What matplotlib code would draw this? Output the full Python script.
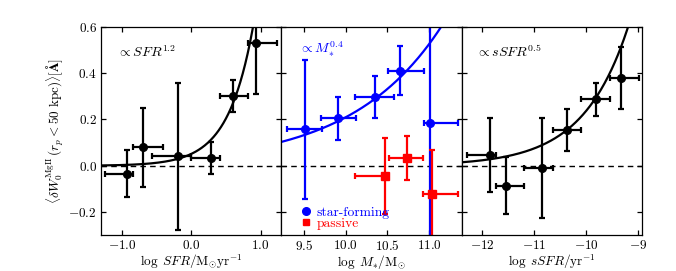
import numpy as np
import matplotlib
matplotlib.use('Agg')
import matplotlib.pyplot as plt
from matplotlib.lines import Line2D

plt.rcParams['font.family'] = 'serif'
plt.rcParams['font.serif'] = ['cmr10']
plt.rcParams['mathtext.fontset'] = 'cm'
plt.rcParams['axes.formatter.use_mathtext'] = True
plt.rcParams['axes.unicode_minus'] = True

# SFR panel: median x, bin edges, mean excess EW and error
sfr_x = [-0.93, -0.70, -0.19, 0.28, 0.60, 0.93]
sfr_lo = [-1.24, -0.84, -0.56, 0.00, 0.41, 0.82]
sfr_hi = [-0.84, -0.41, 0.00, 0.41, 0.82, 1.24]
sfr_y = [-0.034, 0.080, 0.040, 0.034, 0.301, 0.528]
sfr_err = [0.10, 0.17, 0.315, 0.068, 0.071, 0.22]

# stellar mass panel, star-forming
sf_x = [9.51, 9.91, 10.35, 10.65, 11.01]
sf_lo = [9.30, 9.70, 10.11, 10.51, 10.94]
sf_hi = [9.72, 10.12, 10.58, 10.94, 11.35]
sf_y = [0.157, 0.204, 0.296, 0.410, 0.185]
sf_err = [0.30, 0.093, 0.092, 0.106, 0.85]

# stellar mass panel, passive
pa_x = [10.47, 10.73, 11.04]
pa_lo = [10.11, 10.52, 10.93]
pa_hi = [10.50, 10.93, 11.35]
pa_y = [-0.044, 0.032, -0.120]
pa_err = [0.165, 0.095, 0.19]

# sSFR panel
ssfr_x = [-11.85, -11.54, -10.86, -10.38, -9.81, -9.33]
ssfr_lo = [-12.30, -11.74, -11.20, -10.65, -10.10, -9.55]
ssfr_hi = [-11.74, -11.20, -10.65, -10.10, -9.55, -8.99]
ssfr_y = [0.045, -0.086, -0.009, 0.154, 0.286, 0.378]
ssfr_err = [0.16, 0.123, 0.215, 0.09, 0.07, 0.133]

# power-law fits: amplitude at pivot, slope, pivot
fit_sfr = (0.051, 1.2, 0.0)
fit_mass = (0.209, 0.4, 10.0)
fit_ssfr = (0.238, 0.5, -10.0)


def xerrs(x, lo, hi):
    x = np.array(x)
    return [x - np.array(lo), np.array(hi) - x]


def powerlaw(xx, p):
    return p[0] * 10 ** (p[1] * (xx - p[2]))


fig, axes = plt.subplots(1, 3, figsize=(6.76, 2.71), dpi=100, sharey=True)
fig.subplots_adjust(left=0.1494, right=0.9497, bottom=0.1317, top=0.9015, wspace=0)

eb = dict(fmt='o', ms=5.5, elinewidth=1.6, capsize=2.5, capthick=1.6)

ax = axes[0]
ax.set_xlim(-1.3, 1.3)
xx = np.linspace(-1.3, 1.3, 300)
ax.plot(xx, powerlaw(xx, fit_sfr), color='k', lw=1.6)
ax.errorbar(sfr_x, sfr_y, yerr=sfr_err, xerr=xerrs(sfr_x, sfr_lo, sfr_hi), color='k', **eb)
ax.set_xticks([-1.0, 0.0, 1.0])
ax.set_xticklabels(['$-1.0$', '$0.0$', '$1.0$'])
ax.text(0.09, 0.88, r'$\propto SFR^{1.2}$', transform=ax.transAxes, fontsize=10, va='center')
ax.set_xlabel(r'$\log\ SFR/{\rm M_{\odot}yr^{-1}}$', fontsize=9.5, labelpad=0)
ax.set_ylabel(r'$\langle \delta W_0^{\rm MgII}\, (r_p < 50\ {\rm kpc})\rangle [\mathbf{\AA}]$', fontsize=9.5, labelpad=2)

ax = axes[1]
ax.set_xlim(9.23, 11.39)
xx = np.linspace(9.23, 11.39, 300)
ax.plot(xx, powerlaw(xx, fit_mass), color='b', lw=1.6)
ax.errorbar(sf_x, sf_y, yerr=sf_err, xerr=xerrs(sf_x, sf_lo, sf_hi), color='b', **eb)
eb_sq = dict(eb)
eb_sq['fmt'] = 's'
ax.errorbar(pa_x, pa_y, yerr=pa_err, xerr=xerrs(pa_x, pa_lo, pa_hi), color='r', **eb_sq)
ax.set_xticks([9.5, 10.0, 10.5, 11.0])
ax.text(0.10, 0.89, r'$\propto M_{*}^{0.4}$', transform=ax.transAxes, fontsize=10,
        va='center', color='b')
ax.set_xlabel(r'$\log\ M_{*}/{\rm M_{\odot}}$', fontsize=9.5, labelpad=0)
handles = [Line2D([], [], marker='o', color='b', ls='none', ms=5.5),
           Line2D([], [], marker='s', color='r', ls='none', ms=5)]
leg = ax.legend(handles, ['star-forming', 'passive'], loc='lower left',
                bbox_to_anchor=(0.09, 0.0), frameon=False,
                handlelength=0.5, handletextpad=0.5, labelspacing=-0.1,
                borderaxespad=0, fontsize=9.8, numpoints=1)
for t, c in zip(leg.get_texts(), ['b', 'r']):
    t.set_color(c)

ax = axes[2]
ax.set_xlim(-12.4, -8.93)
xx = np.linspace(-12.4, -8.93, 300)
ax.plot(xx, powerlaw(xx, fit_ssfr), color='k', lw=1.6)
ax.errorbar(ssfr_x, ssfr_y, yerr=ssfr_err, xerr=xerrs(ssfr_x, ssfr_lo, ssfr_hi), color='k', **eb)
ax.set_xticks([-12, -11, -10, -9])
ax.set_xticklabels(['$-12$', '$-11$', '$-10$', '$-9$'])
ax.text(0.08, 0.88, r'$\propto sSFR^{0.5}$', transform=ax.transAxes, fontsize=10, va='center')
ax.set_xlabel(r'$\log\ sSFR/{\rm yr^{-1}}$', fontsize=9.5, labelpad=0)

axes[0].set_ylim(-0.3, 0.6)
axes[0].set_yticks([-0.2, 0.0, 0.2, 0.4, 0.6])
axes[0].set_yticklabels(['$-0.2$', '$0.0$', '$0.2$', '$0.4$', '$0.6$'])

for ax in axes:
    ax.axhline(0.0, color='k', lw=1.0, ls=(0, (4, 3)), zorder=0)
    ax.tick_params(direction='in', top=True, right=True, length=3.5, width=0.9,
                   labelsize=9.5, pad=3)
    for s in ax.spines.values():
        s.set_linewidth(0.9)

fig.savefig('out.png', dpi=100)
